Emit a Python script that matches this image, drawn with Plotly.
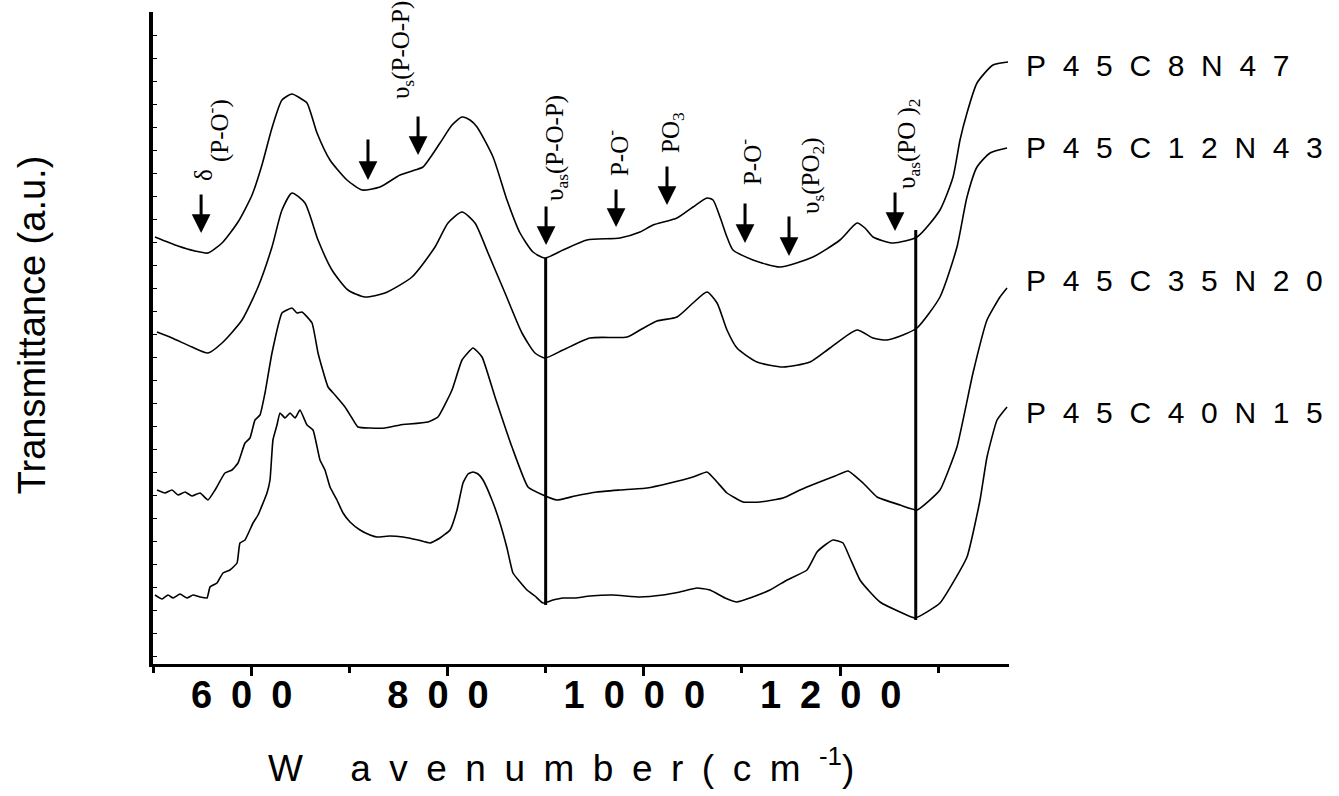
import plotly.graph_objects as go

# ---------------- data (wavenumber cm-1, transmittance a.u.) ----------------
wn_c8 = [502.0, 525.5, 542.8, 556.0, 570.3, 586.6, 600.9, 611.0, 621.2, 631.4, 641.6, 649.7, 656.9,
         667.1, 680.3, 697.6, 712.9, 731.2, 751.6, 766.9, 775.0, 792.4, 804.6, 814.8, 822.9, 830.1,
         846.4, 860.6, 873.9, 887.1, 899.3, 917.7, 942.1, 975.7, 996.1, 1009.4, 1033.8, 1050.1,
         1064.4, 1070.5, 1077.6, 1084.7, 1090.8, 1111.2, 1138.7, 1172.3, 1199.8, 1217.2, 1225.3,
         1233.5, 1253.8, 1278.3, 1301.7, 1315.0, 1322.1, 1329.2, 1339.4, 1355.7, 1371.0]
t_c8 = [427, 418, 413, 411, 421, 442, 469, 499, 536, 564, 570, 566, 561,
        531, 504, 484, 474, 477, 489, 494, 497, 521, 539, 547, 544, 537,
        507, 464, 431, 412, 406, 414, 424, 426, 432, 439, 446, 457,
        466, 464, 447, 427, 414, 404, 397, 407, 424, 441, 436,
        427, 421, 427, 454, 487, 524, 551, 581, 599, 602]

wn_c12 = [504.1, 519.4, 539.7, 556.0, 570.3, 590.7, 607.0, 621.2, 631.4, 641.6, 654.8, 668.1, 682.3,
          698.6, 716.0, 736.3, 763.8, 787.3, 800.5, 814.8, 828.0, 841.3, 858.6, 875.9, 889.1, 899.3,
          917.7, 945.2, 982.9, 996.1, 1013.4, 1033.8, 1050.1, 1064.4, 1074.6, 1084.7, 1094.9, 1115.3,
          1141.8, 1169.3, 1189.7, 1217.2, 1233.5, 1247.7, 1264.0, 1278.3, 1301.7, 1319.0, 1329.2,
          1339.4, 1352.7, 1370.0]
t_c12 = [332, 326, 317, 311, 321, 344, 377, 417, 454, 471, 461, 424, 394,
         374, 367, 371, 387, 417, 441, 452, 441, 411, 371, 331, 311, 306,
         314, 326, 327, 334, 343, 347, 361, 372, 361, 334, 316, 302,
         297, 302, 316, 334, 326, 324, 329, 336, 367, 417, 467,
         497, 511, 516]

wn_c35 = [504.1, 512.2, 519.4, 525.5, 532.6, 539.7, 547.9, 556.0, 563.2, 573.3, 580.5, 586.6, 593.7,
          598.8, 603.9, 609.0, 614.1, 621.2, 631.4, 636.5, 641.6, 646.7, 651.8, 662.0, 668.1, 678.3,
          685.4, 695.6, 702.7, 708.8, 721.1, 736.3, 751.6, 780.1, 790.3, 804.6, 814.8, 826.0, 835.2,
          848.4, 865.7, 882.0, 897.3, 911.6, 929.9, 952.3, 975.7, 1003.2, 1026.7, 1050.1, 1064.4,
          1074.6, 1084.7, 1101.0, 1118.4, 1141.8, 1159.1, 1176.4, 1194.8, 1208.0, 1223.3, 1237.6,
          1261.0, 1278.3, 1301.7, 1319.0, 1335.3, 1349.6, 1362.8, 1370.0]
t_c35 = [174, 171, 174, 169, 172, 168, 171, 164, 174, 191, 194, 201, 221,
         226, 244, 249, 271, 311, 351, 354, 356, 351, 352, 341, 311, 277,
         269, 257, 246, 237, 236, 236, 239, 242, 247, 274, 304, 316, 307,
         267, 217, 177, 169, 164, 168, 172, 174, 176, 181, 187, 192,
         182, 171, 162, 162, 166, 174, 181, 188, 193, 181, 167,
         159, 154, 174, 217, 291, 344, 367, 376]

wn_c40 = [502.0, 509.2, 515.3, 520.4, 527.5, 534.6, 540.7, 547.9, 555.0, 558.1, 565.2, 571.3, 578.4,
          585.6, 588.6, 593.7, 601.9, 607.0, 616.1, 619.2, 622.2, 626.3, 629.4, 634.5, 639.6, 644.7,
          649.7, 656.9, 663.0, 670.1, 675.2, 680.3, 687.4, 693.6, 700.7, 710.9, 721.1, 728.2, 741.4,
          754.7, 770.0, 782.2, 792.4, 802.6, 809.7, 815.8, 820.9, 826.0, 831.1, 836.2, 845.3, 853.5,
          860.6, 866.7, 873.9, 881.0, 889.1, 897.3, 907.5, 917.7, 929.9, 945.2, 968.6, 996.1, 1019.5,
          1036.8, 1054.2, 1067.4, 1082.7, 1094.9, 1108.2, 1128.5, 1145.9, 1166.2, 1176.4, 1184.6,
          1192.7, 1202.9, 1210.0, 1220.2, 1230.4, 1240.6, 1261.0, 1276.3, 1301.7, 1329.2, 1342.5,
          1349.6, 1359.8, 1370.0]
t_c40 = [69, 65, 69, 66, 70, 66, 69, 67, 66, 77, 81, 91, 94,
         101, 121, 124, 141, 149, 171, 184, 224, 239, 251, 246, 251, 246,
         254, 239, 234, 204, 194, 177, 164, 151, 142, 134, 129, 127, 128,
         127, 124, 121, 126, 134, 154, 181, 190, 192, 190, 184, 164, 141,
         116, 91, 82, 74, 68, 61, 64, 66, 66, 68, 69, 67, 69,
         72, 76, 74, 66, 62, 66, 74, 84, 94, 112, 119,
         124, 121, 106, 84, 72, 62, 52, 46, 61, 107, 164,
         207, 244, 257]

sample_names = ["P45C8N47", "P45C12N43", "P45C35N20", "P45C40N15"]
sample_label_y = [599, 517, 384, 252]

# vertical guide lines (wavenumber, from, to)
guide_wn = [900.0, 1277.0]
guide_top = [406, 434]
guide_bottom = [59, 44]

# band assignments: arrow tip (wn, T), arrow length px
arrow_wn = [549.0, 719.0, 770.0, 900.4, 971.7, 1023.6, 1103.1, 1147.9, 1255.9]
arrow_t = [431, 484, 509, 419, 437, 459, 421, 408, 433]
arrow_len = [40, 42, 40, 40, 39, 40, 41, 41, 40]

band_labels = ["δ", "(P-O<sup>-</sup>)", "υ<sub>s</sub>(P-O-P)", "υ<sub>as</sub>(P-O-P)",
               "P-O<sup>-</sup>", "PO<sub>3</sub>", "P-O<sup>-</sup>", "υ<sub>s</sub>(PO<sub>2</sub>)",
               "υ<sub>as</sub>(PO )<sub>2</sub>"]
band_wn = [551.0, 565.2, 753.7, 910.5, 972.7, 1028.7, 1108.2, 1171.3, 1269.1]
band_t = [489, 533, 614, 516, 511, 531, 502, 489, 521]

major_ticks = [600, 800, 1000, 1200]
minor_ticks = [500, 700, 900, 1100, 1300]

# ---------------- figure ----------------
EN = "\u2002"
NB = "\u00a0"


def spaced(s, sep):
    return sep.join(list(s))


fig = go.Figure()
series = [(wn_c8, t_c8, 0.6), (wn_c12, t_c12, 0.6), (wn_c35, t_c35, 0.4), (wn_c40, t_c40, 0.4)]
for (xs, ys, sm), name in zip(series, sample_names):
    fig.add_trace(go.Scatter(x=xs, y=ys, mode="lines", name=name,
                             line=dict(color="black", width=1.6, shape="spline", smoothing=sm),
                             showlegend=False))

for gx, gt, gb in zip(guide_wn, guide_top, guide_bottom):
    fig.add_trace(go.Scatter(x=[gx, gx], y=[gt, gb], mode="lines",
                             line=dict(color="black", width=3), showlegend=False))

annotations = []
for ax_, at_, al in zip(arrow_wn, arrow_t, arrow_len):
    annotations.append(dict(x=ax_, y=at_, xref="x", yref="y", text="", showarrow=True,
                            ax=0, ay=-al, arrowhead=2, arrowsize=1.25, arrowwidth=3,
                            arrowcolor="black"))
for lab, bx, bt in zip(band_labels, band_wn, band_t):
    annotations.append(dict(x=bx, y=bt, xref="x", yref="y", text=lab, showarrow=False,
                            textangle=-90, xanchor="center", yanchor="middle",
                            font=dict(family="Liberation Serif, Times New Roman, serif",
                                      size=25, color="black")))
for name, ly in zip(sample_names, sample_label_y):
    annotations.append(dict(x=1.018, y=ly, xref="paper", yref="y", text=spaced(name, NB + NB),
                            showarrow=False, xanchor="left", yanchor="middle",
                            font=dict(family="Liberation Sans, Arial, sans-serif", size=30,
                                      color="black")))
# axis titles
annotations.append(dict(x=0.477, y=-0.155, xref="paper", yref="paper",
                        text=spaced("W avenumber(cm", EN) + EN + "<sup>-1</sup>)",
                        showarrow=False, xanchor="center", yanchor="middle",
                        font=dict(family="Liberation Sans, Arial, sans-serif", size=37,
                                  color="black")))
annotations.append(dict(x=-0.1414, y=0.521, xref="paper", yref="paper",
                        text="Transmittance (a.u.)", textangle=-90,
                        showarrow=False, xanchor="center", yanchor="middle",
                        font=dict(family="Liberation Sans, Arial, sans-serif", size=38,
                                  color="black")))

fig.update_layout(
    width=1339, height=796,
    margin=dict(l=153, r=330, t=12, b=132),
    paper_bgcolor="white", plot_bgcolor="white",
    annotations=annotations,
    xaxis=dict(range=[500, 1372], showgrid=False, zeroline=False,
               showline=True, linecolor="black", linewidth=3,
               tickmode="array", tickvals=major_ticks,
               ticktext=[spaced(str(v), EN) + EN for v in major_ticks],
               ticks="outside", ticklen=9, tickwidth=3, tickcolor="black",
               ticklabelstandoff=-14,
               tickfont=dict(family="Liberation Sans, Arial, sans-serif", size=38,
                             color="black", weight="bold"),
               minor=dict(tickmode="array", tickvals=minor_ticks, ticks="outside",
                          ticklen=6, tickwidth=3, tickcolor="black", showgrid=False)),
    yaxis=dict(range=[0, 652], showgrid=False, zeroline=False,
               showline=True, linecolor="black", linewidth=4,
               showticklabels=False, tick0=31, dtick=23,
               ticks="inside", ticklen=4, tickwidth=1, tickcolor="black"),
)

fig.write_html("out.html")
